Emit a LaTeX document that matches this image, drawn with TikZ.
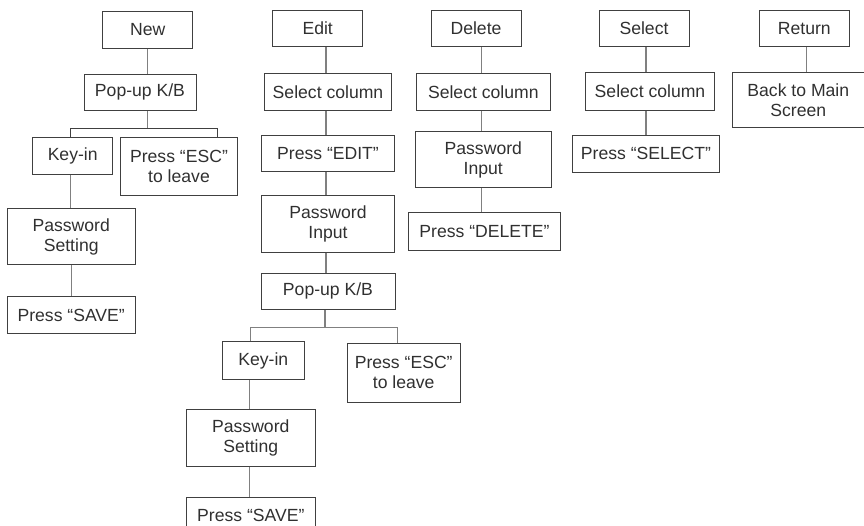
\documentclass[tikz,border=0pt]{standalone}
\usepackage{fontspec}
\setmainfont{Liberation Sans}
\usetikzlibrary{positioning}

\definecolor{boxline}{HTML}{404040}
\definecolor{linkline}{HTML}{808080}
\definecolor{txt}{HTML}{303030}

\begin{document}
\begin{tikzpicture}[font=\fontsize{17.6}{20}\selectfont, text=txt,
	   box/.style={draw=boxline, line width=0.9pt, align=center, inner sep=0pt, minimum height=36.7pt},
	   tall/.style={box, minimum height=56.4pt},
	   link/.style={draw=linkline, line width=1.2pt},
	   fork/.style={draw=boxline, line width=1.3pt}]
	  \useasboundingbox (0,0) rectangle (864pt,-525pt);
	  % top row
	  \node[box, minimum width=90pt] (new) at (147.7pt,-29.7pt) {New};
	  \node[box, minimum width=90pt] (edit) at (317.7pt,-28.3pt) {Edit};
	  \node[box, minimum width=90pt] (del) at (476pt,-28.3pt) {Delete};
	  \node[box, minimum width=90pt] (sel) at (644pt,-28.3pt) {Select};
	  \node[box, minimum width=90pt] (ret) at (804.3pt,-28.3pt) {Return};
	  % New
	  \node[box, minimum width=112pt, below=25pt of new, xshift=-7.7pt] (kbA) {Pop-up K/B};
	  \node[box, minimum width=80pt, below=26pt of kbA, xshift=-67.3pt] (keyA) {Key-in};
	  \node[tall, minimum width=116.6pt, minimum height=57.4pt, below=26pt of kbA, xshift=39pt] (escA) {Press “ESC”\\to leave};
	  \node[tall, minimum width=127.7pt, minimum height=56pt, below=33.3pt of keyA, xshift=-1.5pt] (pwA) {Password\\Setting};
	  \node[box, minimum width=127.7pt, minimum height=37.3pt, below=31pt of pwA] (saveA) {Press “SAVE”};
	  \draw[link] (new) -- (new |- kbA.north);
	  \draw[link] (new |- kbA.south) -- ([yshift=8.3pt]keyA.north -| new);
	  \draw[fork] ([xshift=-2pt]keyA.north) |- ([xshift=38.3pt, yshift=8.3pt]escA.north) -- ([xshift=38.3pt]escA.north);
	  \draw[link] ([xshift=-2pt]keyA.south) -- ([xshift=-2pt]keyA.south |- pwA.north);
	  \draw[link] (pwA) -- (saveA);
	  % Edit
	  \node[box, minimum width=127.4pt, below=26pt of edit, xshift=10.3pt] (selB) {Select column};
	  \node[box, minimum width=133.3pt, below=24pt of selB] (pressB) {Press “EDIT”};
	  \node[tall, minimum width=133.3pt, minimum height=56.6pt, below=22.7pt of pressB] (pinB) {Password\\Input};
	  \node[box, minimum width=134pt, below=20pt of pinB] (kbB) {Pop-up K/B};
	  \node[box, minimum width=81.3pt, minimum height=37.7pt, below=31.3pt of kbB, xshift=-64.7pt] (keyB) {Key-in};
	  \node[tall, minimum width=112.7pt, minimum height=58.7pt, below=33pt of kbB, xshift=75.7pt] (escB) {Press “ESC”\\to leave};
	  \node[tall, minimum width=128.3pt, below=29.3pt of keyB, xshift=-12.5pt] (pwB) {Password\\Setting};
	  \node[box, minimum width=128.3pt, minimum height=37pt, below=30pt of pwB] (saveB) {Press “SAVE”};
	  \draw[link] ([xshift=-2pt]selB.north) -- ([xshift=-2pt]selB.north |- edit.south);
	  \draw[link] ([xshift=-2pt]selB.south) -- ([xshift=-2pt]selB.south |- pressB.north);
	  \draw[link] ([xshift=-2pt]pressB.south) -- ([xshift=-2pt]pressB.south |- pinB.north);
	  \draw[link] ([xshift=-2pt]pinB.south) -- ([xshift=-2pt]pinB.south |- kbB.north);
	  \draw[link] ([xshift=-3pt]kbB.south) -- ([xshift=-3pt, yshift=14pt]kbB.south |- keyB.north);
	  \draw[link] ([xshift=-12.6pt]keyB.north) |- ([xshift=-6.4pt, yshift=15.7pt]escB.north) -- ([xshift=-6.4pt]escB.north);
	  \draw[link] ([xshift=-14pt]keyB.south) -- ([xshift=-14pt]keyB.south |- pwB.north);
	  \draw[link] ([xshift=-1.5pt]pwB.south) -- ([xshift=-1.5pt]pwB.south |- saveB.north);
	  % Delete
	  \node[box, minimum width=134.7pt, below=26pt of del, xshift=7.3pt] (selC) {Select column};
	  \node[tall, minimum width=135.7pt, minimum height=55.7pt, below=20.7pt of selC] (pinC) {Password\\Input};
	  \node[box, minimum width=151.4pt, minimum height=38pt, below=23.6pt of pinC, xshift=1.2pt] (pressC) {Press “DELETE”};
	  \draw[link] ([xshift=-1.6pt]selC.north) -- ([xshift=-1.6pt]selC.north |- del.south);
	  \draw[link] ([xshift=-1.6pt]selC.south) -- ([xshift=-1.6pt]selC.south |- pinC.north);
	  \draw[link] ([xshift=-2pt]pinC.south) -- ([xshift=-2pt]pinC.south |- pressC.north);
	  % Select
	  \node[box, minimum width=128.3pt, minimum height=37.6pt, below=25pt of sel, xshift=6pt] (selD) {Select column};
	  \node[box, minimum width=146.6pt, minimum height=37.4pt, below=24pt of selD, xshift=-4pt] (pressD) {Press “SELECT”};
	  \draw[link] ([xshift=2pt]sel.south) -- ([xshift=2pt]sel.south |- selD.north);
	  \draw[link] (pressD.north |- selD.south) -- (pressD.north);
	  % Return
	  \node[tall, minimum width=131.3pt, minimum height=55pt, below=25pt of ret, xshift=-6pt] (back) {Back to Main\\Screen};
	  \draw[link] ([xshift=2.4pt]ret.south) -- ([xshift=2.4pt]ret.south |- back.north);
	\end{tikzpicture}
\end{document}
